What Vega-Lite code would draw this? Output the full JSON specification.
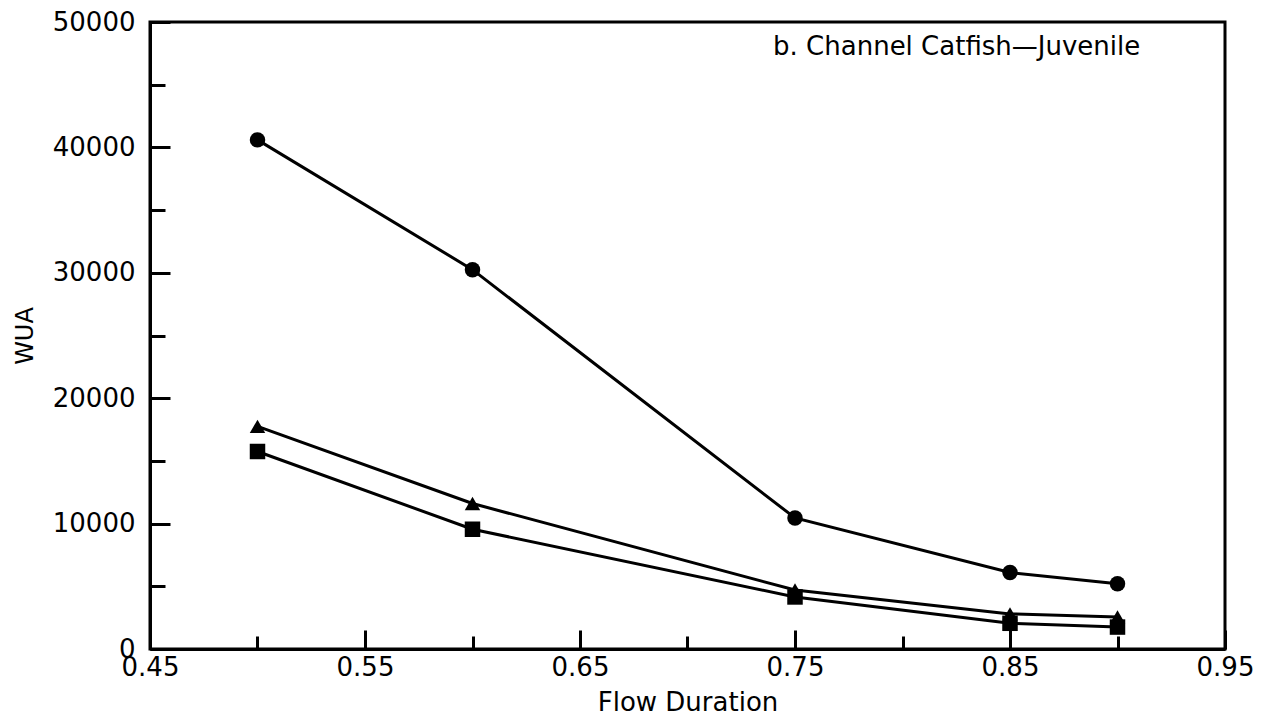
{
  "$schema": "https://vega.github.io/schema/vega-lite/v6.json",
  "autosize": {"type": "none"},
  "padding": {"left": 150, "top": 22, "right": 40, "bottom": 69},
  "width": 1075,
  "height": 627,
  "background": "white",
  "config": {
    "view": {"stroke": "black", "strokeWidth": 3},
    "axis": {"labelFont": "DejaVu Sans", "titleFont": "DejaVu Sans", "labelColor": "black", "titleColor": "black", "domainColor": "black", "tickColor": "black", "domainWidth": 3, "tickWidth": 3, "grid": false}
  },
  "datasets": {
    "wua": [
      {"series": "A", "flow": 0.5, "wua": 40600},
      {"series": "A", "flow": 0.6, "wua": 30250},
      {"series": "A", "flow": 0.75, "wua": 10450},
      {"series": "A", "flow": 0.85, "wua": 6100},
      {"series": "A", "flow": 0.9, "wua": 5200},
      {"series": "B", "flow": 0.5, "wua": 17750},
      {"series": "B", "flow": 0.6, "wua": 11600},
      {"series": "B", "flow": 0.75, "wua": 4700},
      {"series": "B", "flow": 0.85, "wua": 2800},
      {"series": "B", "flow": 0.9, "wua": 2550},
      {"series": "C", "flow": 0.5, "wua": 15750},
      {"series": "C", "flow": 0.6, "wua": 9550},
      {"series": "C", "flow": 0.75, "wua": 4150},
      {"series": "C", "flow": 0.85, "wua": 2050},
      {"series": "C", "flow": 0.9, "wua": 1750}
    ],
    "label": [
      {"flow": 0.7398, "wua": 48000, "text": "b. Channel Catfish—Juvenile"}
    ]
  },
  "resolve": {"axis": {"x": "independent", "y": "independent"}},
  "layer": [
    {
      "data": {"name": "wua"},
      "mark": {"type": "line", "color": "black", "strokeWidth": 3},
      "encoding": {
        "x": {"field": "flow", "type": "quantitative",
          "scale": {"domain": [0.45, 0.95], "nice": false, "zero": false},
          "axis": {"orient": "bottom", "values": [0.45, 0.55, 0.65, 0.75, 0.85, 0.95], "format": ".2f", "tickSize": -19, "labelPadding": 24, "labelFontSize": 26, "title": "Flow Duration", "titleFontSize": 26, "titleFontWeight": "normal", "titleBaseline": "middle", "titleY": 53, "labelFlush": false}},
        "y": {"field": "wua", "type": "quantitative",
          "scale": {"domain": [0, 50000], "nice": false},
          "axis": {"orient": "left", "values": [0, 10000, 20000, 30000, 40000, 50000], "format": "d", "tickSize": -20, "labelPadding": 35, "labelFontSize": 26, "title": "WUA", "titleFontSize": 24, "titleFontWeight": "normal", "titleBaseline": "middle", "titleX": -125, "labelFlush": false}},
        "detail": {"field": "series"}
      }
    },
    {
      "data": {"name": "wua"},
      "mark": {"type": "point", "filled": true, "color": "black", "opacity": 1, "size": 240},
      "encoding": {
        "x": {"field": "flow", "type": "quantitative",
          "scale": {"domain": [0.45, 0.95], "nice": false, "zero": false},
          "axis": {"orient": "bottom", "values": [0.5, 0.6, 0.7, 0.8, 0.9], "tickSize": -13, "labels": false, "domain": false, "title": null}},
        "y": {"field": "wua", "type": "quantitative",
          "scale": {"domain": [0, 50000], "nice": false},
          "axis": {"orient": "left", "values": [5000, 15000, 25000, 35000, 45000], "tickSize": -15, "labels": false, "domain": false, "title": null}},
        "shape": {"field": "series", "type": "nominal", "scale": {"domain": ["A", "B", "C"], "range": ["circle", "triangle-up", "square"]}, "legend": null}
      }
    },
    {
      "data": {"name": "label"},
      "mark": {"type": "text", "align": "left", "baseline": "middle", "font": "DejaVu Sans", "fontSize": 26, "color": "black"},
      "encoding": {
        "x": {"field": "flow", "type": "quantitative", "scale": {"domain": [0.45, 0.95], "nice": false, "zero": false}, "axis": null},
        "y": {"field": "wua", "type": "quantitative", "scale": {"domain": [0, 50000], "nice": false}, "axis": null},
        "text": {"field": "text"}
      }
    }
  ]
}
